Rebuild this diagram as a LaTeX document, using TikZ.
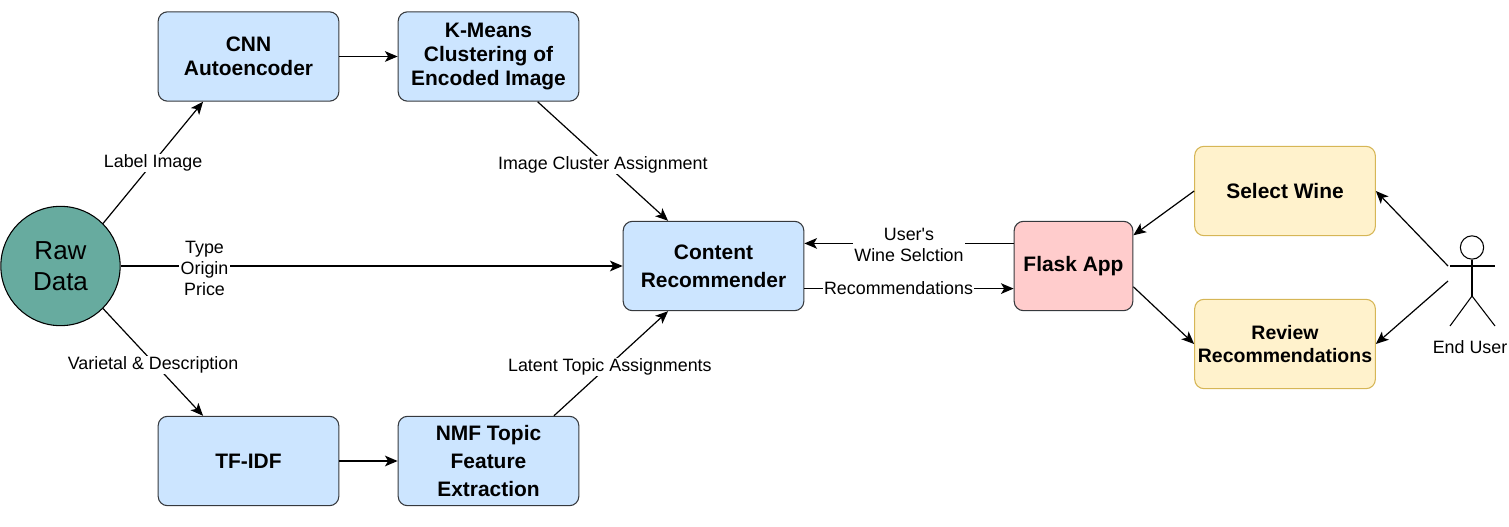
\documentclass[tikz,border=0pt]{standalone}
\usepackage{fontspec}
\setmainfont{Liberation Sans}
\newfontfamily\plainfont{Liberation Sans}
\usetikzlibrary{arrows.meta,calc}
\definecolor{boxBlue}{HTML}{CCE5FF}
\definecolor{boxYellow}{HTML}{FFF2CC}
\definecolor{boxRed}{HTML}{FFCCCC}
\definecolor{boxGreen}{HTML}{67AB9F}
\definecolor{lineDark}{HTML}{36393D}
\definecolor{lineGold}{HTML}{D6B656}
\tikzset{
  blk/.style={draw=lineDark, fill=boxBlue, rounded corners=7pt, line width=0.8pt, minimum width=135.5pt, minimum height=67pt, inner sep=0pt, align=center, font=\fontsize{15.7}{18}\selectfont\bfseries},
  usr/.style={blk, draw=lineGold, fill=boxYellow},
  arr/.style={-{Stealth[length=9.5pt,width=8pt,inset=2.4pt]}, line width=0.9pt},
  lbl/.style={fill=white, inner xsep=1pt, inner ysep=0.5pt, align=center, font=\fontsize{13.4}{15.75}\selectfont},
}
\begin{document}
\begin{tikzpicture}[x=0.75pt,y=-0.75pt]
  \useasboundingbox (0,0) rectangle (1509,527);
  % source and pipeline boxes
  \node[draw=black, fill=boxGreen, circle, line width=0.8pt, minimum size=89.5pt, inner sep=0pt, align=center, font=\fontsize{19.5}{23.5}\selectfont] (raw) at (60.5,266) {Raw\\Data};
  \node[blk] (cnn) at (248.5,56.5) {CNN\\Autoencoder};
  \node[blk] (kmeans) at (488.5,56.5) {K-Means\\Clustering of\\Encoded Image};
  \node[blk] (tfidf) at (248.5,461) {TF-IDF};
  \node[blk, font=\fontsize{15.7}{21}\selectfont\bfseries] (nmf) at (488.5,461) {NMF Topic\\Feature\\Extraction};
  \node[blk, font=\fontsize{15.7}{21}\selectfont\bfseries] (content) at (713.5,266) {Content\\Recommender};
  \node[blk, fill=boxRed, minimum width=89pt] (flask) at (1073.5,266) {Flask App};
  \node[usr] (select) at (1285,191) {Select Wine};
  \node[usr, font=\fontsize{14.6}{17.25}\selectfont\bfseries] (review) at (1285,344) {Review\\Recommendations};
  % end user
  \node[draw, circle, line width=0.8pt, minimum size=17.5pt, inner sep=0pt] (head) at (1472,247.5) {};
  \coordinate (hip) at (1472,296);
  \coordinate (armL) at (1450,266);
  \coordinate (armR) at (1495,266);
  \coordinate (userA) at (1448,266);
  \coordinate (userB) at (1448,281);
  \draw[line width=0.8pt] (head) -- (hip);
  \draw[line width=0.8pt] (armL) -- (armR);
  \draw[line width=0.8pt] (1450,326) -- (hip) -- (1495,326);
  \node[lbl, fill=none] (user) at (1470,347) {End User};
  % left half
  \draw[arr] (raw.45) -- node[lbl] (lblImg) {Label Image} ($(cnn.south west)!0.25!(cnn.south east)$);
  \draw[arr] (raw.east) -- node[lbl, pos=0.167, yshift=-2pt] (lblType) {Type\\Origin\\Price} (content.west);
  \draw[arr] (raw.-45) -- node[lbl, yshift=-2pt] (lblVar) {Varietal \& Description} ($(tfidf.north west)!0.25!(tfidf.north east)$);
  \draw[arr] (cnn) -- (kmeans);
  \draw[arr] (tfidf) -- (nmf);
  \draw[arr] ($(kmeans.south west)!0.77!(kmeans.south east)$) -- node[lbl, pos=0.5, yshift=-3pt] (lblClu) {Image Cluster Assignment} ($(content.north west)!0.25!(content.north east)$);
  \draw[arr] ($(nmf.north west)!0.86!(nmf.north east)$) -- node[lbl, pos=0.49, yshift=-1.5pt] (lblTop) {Latent Topic Assignments} ($(content.south west)!0.25!(content.south east)$);
  % right half
  \draw[arr] ($(flask.north west)!0.25!(flask.south west)$) -- node[lbl, yshift=-1pt] (lblSel) {{\plainfont User's}\\Wine Selction} ($(content.north east)!0.25!(content.south east)$);
  \draw[arr] ($(content.north east)!0.75!(content.south east)$) -- node[lbl, pos=0.45] (lblRec) {Recommendations} ($(flask.north west)!0.75!(flask.south west)$);
  \draw[arr] (select.west) -- ($(flask.north east)!0.16!(flask.south east)$);
  \draw[arr] ($(flask.north east)!0.73!(flask.south east)$) -- (review.west);
  \draw[arr] (userA) -- (select.east);
  \draw[arr] (userB) -- (review.east);
\end{tikzpicture}
\end{document}
